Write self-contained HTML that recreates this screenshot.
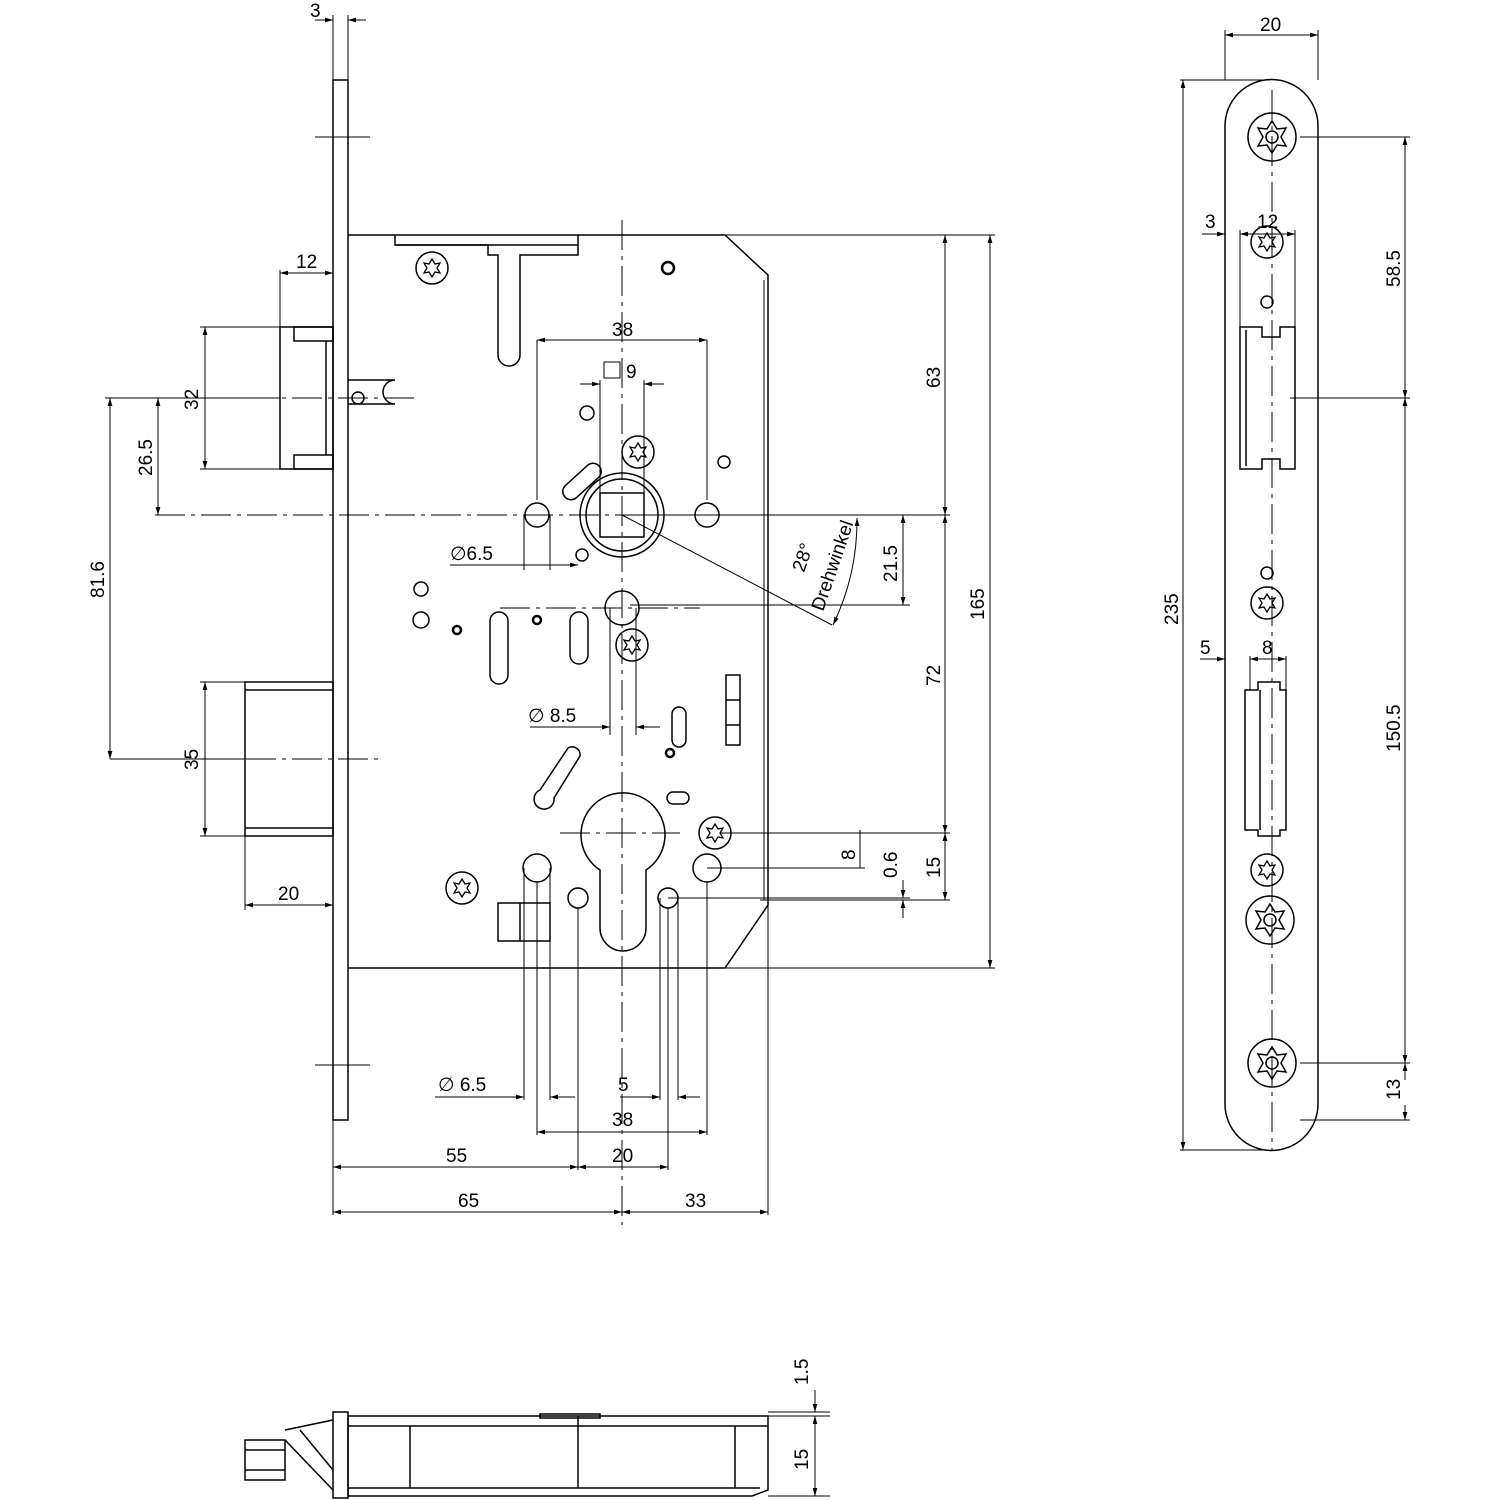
<!DOCTYPE html>
<html><head><meta charset="utf-8"><style>
html,body{margin:0;padding:0;background:#fff;}
svg{display:block}
text{font-family:"Liberation Sans",sans-serif;font-size:19px;fill:#000}
</style></head><body>
<svg width="1500" height="1500" viewBox="0 0 1500 1500" xmlns="http://www.w3.org/2000/svg">
<defs>
<marker id="a" viewBox="0 0 10 10" refX="10" refY="5" markerWidth="10" markerHeight="8" orient="auto-start-reverse" markerUnits="userSpaceOnUse"><path d="M0,2 L10,5 L0,8 z" fill="#000"/></marker>
<g id="scr"><circle r="16" fill="none" stroke="#000" stroke-width="1.5"/><path d="M0,-9 L3,-4 L8,-5 L5,0 L8,5 L3,4 L0,9 L-3,4 L-8,5 L-5,0 L-8,-5 L-3,-4 Z" fill="none" stroke="#000" stroke-width="1.3"/></g>
<g id="bscr"><circle r="24" fill="none" stroke="#000" stroke-width="1.5"/><path d="M0,-16 L5,-8 L14,-9 L9,0 L14,9 L5,8 L0,16 L-5,8 L-14,9 L-9,0 L-14,-9 L-5,-8 Z" fill="none" stroke="#000" stroke-width="1.5"/><circle r="6" fill="none" stroke="#000"/></g>
</defs>
<g fill="none" stroke="#000" stroke-width="1.5">
<rect x="333" y="80" width="15" height="1040"/>
<line x1="315" y1="137" x2="370" y2="137" stroke-width="1"/>
<line x1="315" y1="1065" x2="370" y2="1065" stroke-width="1"/>
<path d="M348,235 H725 L768,275 V905 L725,968 H348"/>
<line x1="764" y1="280" x2="764" y2="900" stroke-width="1"/>
<path d="M395,235 V245 H488 V255 H498 V355 A11,11 0 0 0 520,355 V255 H578 V235"/>
<path d="M395,245 H578"/>
<rect x="280" y="327" width="53" height="142"/>
<rect x="294" y="327" width="39" height="14"/><rect x="294" y="455" width="39" height="14"/>
<line x1="326" y1="341" x2="326" y2="455"/>
<rect x="245" y="682" width="88" height="154"/>
<line x1="245" y1="690" x2="333" y2="690"/><line x1="245" y1="828" x2="333" y2="828"/>
<circle cx="622" cy="515" r="42"/><circle cx="622" cy="515" r="36"/>
<rect x="600" y="493" width="44" height="44"/>
<circle cx="537" cy="515" r="12"/><circle cx="707" cy="515" r="12"/>
<circle cx="622" cy="608" r="17"/>
<use href="#scr" x="432" y="268"/><use href="#scr" x="638" y="452"/><use href="#scr" x="632" y="645"/>
<use href="#scr" x="715" y="833"/><use href="#scr" x="462" y="888"/>
<circle cx="668" cy="268" r="6" stroke-width="2.5"/>
<circle cx="587" cy="413" r="7"/><circle cx="724" cy="462" r="6"/><circle cx="582" cy="555" r="6"/>
<circle cx="421" cy="589" r="7"/><circle cx="421" cy="620" r="8"/><circle cx="457" cy="630" r="4" stroke-width="2.5"/><circle cx="537" cy="620" r="4" stroke-width="2.5"/>
<rect x="490" y="612" width="18" height="72" rx="9"/><rect x="570" y="612" width="18" height="52" rx="9"/>
<rect x="672" y="707" width="14" height="40" rx="7"/><circle cx="670" cy="753" r="4" stroke-width="2.5"/>
<rect x="667" y="792" width="22" height="12" rx="6"/>
<rect x="726" y="675" width="14" height="70"/>
<line x1="726" y1="700" x2="740" y2="700"/><line x1="726" y1="725" x2="740" y2="725"/>
<path d="M566,485 L588,465 A8,8 0 0 1 598,478 L576,498 A8,8 0 0 1 566,485Z"/>
<path d="M540,790 L568,748 A8,8 0 0 1 580,756 L554,798 A10,10 0 1 1 540,790Z"/>
<path d="M600,870 A42,42 0 1 1 646,870 V928 A23,23 0 0 1 600,928 Z"/>
<circle cx="537" cy="868" r="14"/><circle cx="707" cy="868" r="14"/>
<circle cx="578" cy="898" r="10"/><circle cx="668" cy="898" r="10"/>
<rect x="498" y="903" width="52" height="38"/><line x1="520" y1="903" x2="520" y2="941"/>
<path d="M348,380 H395 A12,12 0 0 0 395,404 H348"/><circle cx="358" cy="398" r="6"/>
</g>
<g stroke="#000" stroke-width="1" stroke-dasharray="30,6,4,6" fill="none">
<line x1="622" y1="220" x2="622" y2="1225"/>
<line x1="155" y1="515" x2="780" y2="515"/>
<line x1="200" y1="398" x2="420" y2="398"/>
<line x1="200" y1="759" x2="380" y2="759"/>
<line x1="500" y1="608" x2="700" y2="608"/>
<line x1="560" y1="833" x2="680" y2="833"/>
<line x1="1272" y1="90" x2="1272" y2="1150"/>
</g>
<g stroke="#000" stroke-width="1" fill="none">
<line x1="105" y1="398" x2="280" y2="398"/>
<line x1="110" y1="759" x2="245" y2="759"/>
<line x1="200" y1="327" x2="280" y2="327"/><line x1="200" y1="469" x2="280" y2="469"/>
<line x1="200" y1="682" x2="245" y2="682"/><line x1="200" y1="836" x2="245" y2="836"/>
<line x1="348" y1="235" x2="995" y2="235"/><line x1="348" y1="968" x2="995" y2="968"/>
<line x1="622" y1="515" x2="950" y2="515"/>
<line x1="720" y1="833" x2="950" y2="833"/><line x1="760" y1="900" x2="950" y2="900"/>
<line x1="707" y1="868" x2="865" y2="868"/><line x1="668" y1="898" x2="910" y2="898"/>
<line x1="630" y1="605" x2="910" y2="605"/>
<line x1="333" y1="1120" x2="333" y2="1215"/><line x1="768" y1="905" x2="768" y2="1215"/>
<line x1="537" y1="340" x2="537" y2="500"/><line x1="707" y1="340" x2="707" y2="500"/>
<line x1="578" y1="908" x2="578" y2="1170"/><line x1="668" y1="908" x2="668" y2="1170"/>
<line x1="537" y1="882" x2="537" y2="1135"/><line x1="707" y1="882" x2="707" y2="1135"/>
<line x1="524" y1="868" x2="524" y2="1100"/><line x1="550" y1="868" x2="550" y2="1100"/>
<line x1="660" y1="898" x2="660" y2="1100"/><line x1="678" y1="898" x2="678" y2="1100"/>
<line x1="524" y1="515" x2="524" y2="570"/><line x1="550" y1="515" x2="550" y2="570"/>
<line x1="600" y1="380" x2="600" y2="493"/><line x1="644" y1="380" x2="644" y2="493"/>
<line x1="610" y1="608" x2="610" y2="735"/><line x1="636" y1="608" x2="636" y2="735"/>
<line x1="280" y1="270" x2="280" y2="327"/>
<line x1="245" y1="836" x2="245" y2="910"/>
<line x1="348" y1="15" x2="348" y2="80"/>
<line x1="622" y1="515" x2="832" y2="625"/>
<path d="M857,518 A240,240 0 0 1 833,625" marker-start="url(#a)" marker-end="url(#a)"/>
</g>
<g stroke="#000" stroke-width="1" fill="none" marker-start="url(#a)" marker-end="url(#a)">
<line x1="110" y1="398" x2="110" y2="759"/>
<line x1="158" y1="398" x2="158" y2="515"/>
<line x1="205" y1="327" x2="205" y2="469"/>
<line x1="205" y1="682" x2="205" y2="836"/>
<line x1="945" y1="235" x2="945" y2="515"/>
<line x1="945" y1="515" x2="945" y2="833"/>
<line x1="945" y1="833" x2="945" y2="900"/>
<line x1="990" y1="235" x2="990" y2="968"/>
<line x1="903" y1="515" x2="903" y2="605"/>
<line x1="333" y1="1167" x2="578" y2="1167"/>
<line x1="578" y1="1167" x2="668" y2="1167"/>
<line x1="333" y1="1212" x2="622" y2="1212"/>
<line x1="622" y1="1212" x2="768" y2="1212"/>
<line x1="537" y1="1132" x2="707" y2="1132"/>
<line x1="537" y1="340" x2="707" y2="340"/>
<line x1="280" y1="273" x2="333" y2="273"/>
<line x1="245" y1="905" x2="333" y2="905"/>
</g>
<g stroke="#000" stroke-width="1" fill="none">
<line x1="315" y1="20" x2="333" y2="20" marker-end="url(#a)"/><line x1="366" y1="20" x2="348" y2="20" marker-end="url(#a)"/><line x1="333" y1="15" x2="333" y2="80"/>
<line x1="860" y1="830" x2="860" y2="868"/>
<line x1="903" y1="880" x2="903" y2="898" marker-end="url(#a)"/><line x1="903" y1="918" x2="903" y2="900" marker-end="url(#a)"/>
<line x1="450" y1="565" x2="578" y2="565" marker-end="url(#a)"/>
<line x1="530" y1="727" x2="610" y2="727" marker-end="url(#a)"/><line x1="660" y1="727" x2="636" y2="727" marker-end="url(#a)"/>
<line x1="435" y1="1097" x2="524" y2="1097" marker-end="url(#a)"/><line x1="575" y1="1097" x2="550" y2="1097" marker-end="url(#a)"/>
<line x1="620" y1="1097" x2="660" y2="1097" marker-end="url(#a)"/><line x1="700" y1="1097" x2="678" y2="1097" marker-end="url(#a)"/>
<line x1="580" y1="384" x2="600" y2="384" marker-end="url(#a)"/><line x1="664" y1="384" x2="644" y2="384" marker-end="url(#a)"/>
</g>
<rect x="604" y="362" width="16" height="16" fill="none" stroke="#000" stroke-width="1"/>
<text x="310" y="17">3</text>
<text x="296" y="268">12</text>
<text x="612" y="336">38</text>
<text x="626" y="378">9</text>
<text x="450" y="560">∅6.5</text>
<text x="528" y="722">∅ 8.5</text>
<text x="438" y="1091">∅ 6.5</text>
<text x="618" y="1091">5</text>
<text x="612" y="1126">38</text>
<text x="446" y="1162">55</text><text x="612" y="1162">20</text>
<text x="458" y="1207">65</text><text x="685" y="1207">33</text>
<text x="278" y="900">20</text>
<text transform="translate(198,410) rotate(-90)">32</text>
<text transform="translate(152,476) rotate(-90)">26.5</text>
<text transform="translate(104,598) rotate(-90)">81.6</text>
<text transform="translate(198,770) rotate(-90)">35</text>
<text transform="translate(940,388) rotate(-90)">63</text>
<text transform="translate(940,686) rotate(-90)">72</text>
<text transform="translate(940,878) rotate(-90)">15</text>
<text transform="translate(984,620) rotate(-90)">165</text>
<text transform="translate(897,582) rotate(-90)">21.5</text>
<text transform="translate(855,860) rotate(-90)">8</text>
<text transform="translate(897,878) rotate(-90)">0.6</text>
<text transform="translate(804,573) rotate(-71)" font-size="21">28°</text>
<text transform="translate(823,612) rotate(-71)" font-size="21">Drehwinkel</text>
<g fill="none" stroke="#000" stroke-width="1.5">
<path d="M1225,126 A46,46 0 0 1 1318,126 V1104 A46,46 0 0 1 1225,1104 Z"/>
<use href="#bscr" x="1272" y="137"/><use href="#bscr" x="1272" y="1063"/><use href="#bscr" x="1270" y="920"/>
<use href="#scr" x="1267" y="242"/><use href="#scr" x="1267" y="603"/><use href="#scr" x="1267" y="870"/>
<circle cx="1267" cy="302" r="6"/><circle cx="1267" cy="573" r="6"/>
<path d="M1240,327 H1262 V337 H1280 V327 H1295 V469 H1280 V459 H1262 V469 H1240 Z"/>
<line x1="1246" y1="330" x2="1246" y2="466"/>
<path d="M1245,690 H1258 V682 H1280 V690 H1286 V830 H1280 V836 H1258 V830 H1245 Z"/>
<line x1="1260" y1="690" x2="1260" y2="830"/>
</g>
<g stroke="#000" stroke-width="1" fill="none">
<line x1="1225" y1="80" x2="1225" y2="30"/><line x1="1318" y1="80" x2="1318" y2="30"/>
<line x1="1180" y1="80" x2="1270" y2="80"/><line x1="1180" y1="1150" x2="1270" y2="1150"/>
<line x1="1300" y1="137" x2="1410" y2="137"/><line x1="1290" y1="398" x2="1410" y2="398"/>
<line x1="1300" y1="1063" x2="1410" y2="1063"/><line x1="1300" y1="1120" x2="1410" y2="1120"/>
<line x1="1240" y1="230" x2="1240" y2="327"/><line x1="1295" y1="230" x2="1295" y2="327"/>
<line x1="1250" y1="656" x2="1250" y2="690"/><line x1="1286" y1="656" x2="1286" y2="690"/>
</g>
<g stroke="#000" stroke-width="1" fill="none" marker-start="url(#a)" marker-end="url(#a)">
<line x1="1225" y1="35" x2="1318" y2="35"/>
<line x1="1183" y1="80" x2="1183" y2="1150"/>
<line x1="1405" y1="137" x2="1405" y2="398"/>
<line x1="1405" y1="398" x2="1405" y2="1063"/>
<line x1="1240" y1="234" x2="1295" y2="234"/>
<line x1="1250" y1="659" x2="1286" y2="659"/>
</g>
<g stroke="#000" stroke-width="1">
<line x1="1405" y1="1063" x2="1405" y2="1080" marker-start="url(#a)"/>
<line x1="1405" y1="1120" x2="1405" y2="1105" marker-start="url(#a)"/>
<line x1="1202" y1="234" x2="1225" y2="234" marker-end="url(#a)"/>
<line x1="1200" y1="659" x2="1225" y2="659" marker-end="url(#a)"/>
</g>
<text x="1260" y="31">20</text>
<text x="1205" y="228">3</text><text x="1257" y="228">12</text>
<text x="1200" y="654">5</text><text x="1262" y="654">8</text>
<text transform="translate(1178,625) rotate(-90)">235</text>
<text transform="translate(1400,287) rotate(-90)">58.5</text>
<text transform="translate(1400,752) rotate(-90)">150.5</text>
<text transform="translate(1400,1100) rotate(-90)">13</text>
<g fill="none" stroke="#000" stroke-width="1.5">
<rect x="333" y="1412" width="15" height="86"/>
<path d="M348,1416 H768 V1490 L752,1496 H348 Z"/>
<line x1="348" y1="1426" x2="768" y2="1426"/><line x1="348" y1="1488" x2="760" y2="1488"/>
<line x1="410" y1="1426" x2="410" y2="1488"/><line x1="578" y1="1416" x2="578" y2="1488"/>
<line x1="735" y1="1426" x2="735" y2="1488"/>
<path d="M245,1440 H285 V1480 H245 Z"/>
<path d="M285,1430 L333,1420 M285,1440 L333,1490 M300,1430 L333,1470"/>
<line x1="245" y1="1450" x2="285" y2="1450"/><line x1="245" y1="1470" x2="285" y2="1470"/>
<rect x="540" y="1414" width="60" height="4"/>
</g>
<g stroke="#000" stroke-width="1" fill="none">
<line x1="768" y1="1412" x2="830" y2="1412"/><line x1="768" y1="1416" x2="830" y2="1416"/><line x1="768" y1="1496" x2="830" y2="1496"/>
<line x1="815" y1="1390" x2="815" y2="1412" marker-end="url(#a)"/>
<line x1="815" y1="1416" x2="815" y2="1496" marker-start="url(#a)" marker-end="url(#a)"/>
</g>
<text transform="translate(808,1385) rotate(-90)">1.5</text>
<text transform="translate(808,1470) rotate(-90)">15</text>
</svg>
</body></html>
